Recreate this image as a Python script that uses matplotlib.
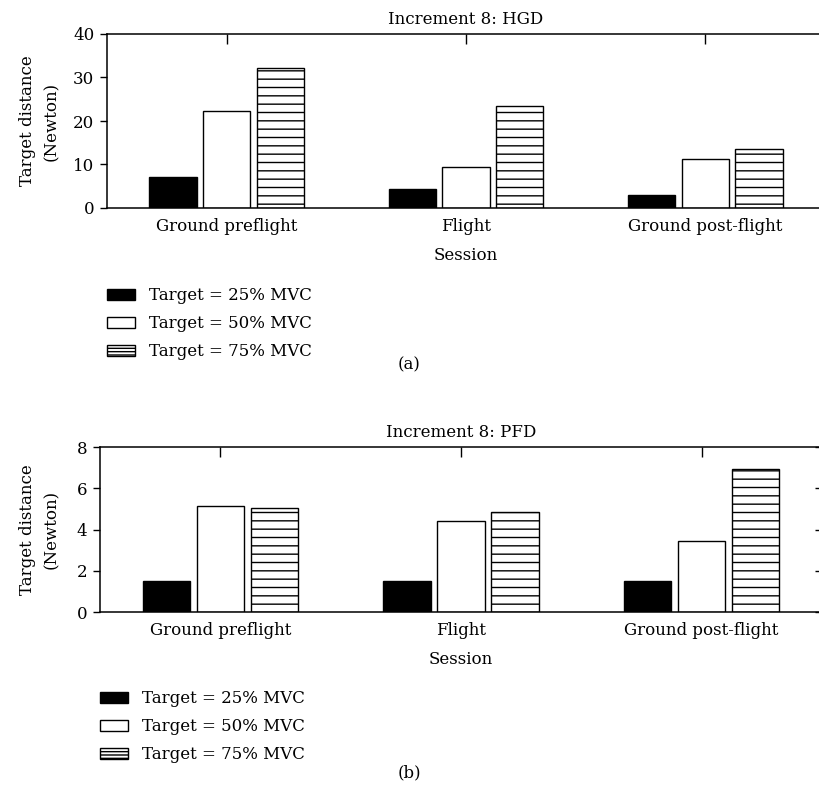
import numpy as np
import matplotlib
matplotlib.use("Agg")
from matplotlib import pyplot as plt
from matplotlib.patches import Patch

# data
sessions = ["Ground preflight", "Flight", "Ground post-flight"]
labels = ["Target = 25% MVC", "Target = 50% MVC", "Target = 75% MVC"]

hgd_25 = [7.1, 4.4, 3.0]
hgd_50 = [22.3, 9.4, 11.2]
hgd_75 = [32.1, 23.5, 13.5]

pfd_25 = [1.52, 1.52, 1.52]
pfd_50 = [5.15, 4.40, 3.43]
pfd_75 = [5.03, 4.87, 6.93]

plt.rcParams['font.family'] = ['DejaVu Serif']
plt.rcParams['font.size'] = 12
plt.rcParams['hatch.linewidth'] = 1.0

W, H = 819, 805
fig = plt.figure(figsize=(W / 100, H / 100), dpi=100)


def px_axes(left, right, top, bottom):
    return fig.add_axes([left / W, 1 - bottom / H, (right - left) / W, (bottom - top) / H])


styles = [dict(color='black', edgecolor='black'),
          dict(color='white', edgecolor='black'),
          dict(color='white', edgecolor='black', hatch='--')]


def draw_panel(ax, series, title, ymax, ystep, right_ticks):
    x = np.arange(len(sessions))
    offs = [-0.224, 0.0, 0.224]
    for vals, off, st in zip(series, offs, styles):
        ax.bar(x + off, vals, width=0.197, linewidth=1.0, **st)
    ax.set_xlim(-0.5, 2.5)
    ax.set_ylim(0, ymax)
    ax.set_yticks(np.arange(0, ymax + 0.1, ystep))
    ax.set_xticks(x)
    ax.set_xticklabels(sessions)
    ax.tick_params(axis='x', bottom=False, top=True, direction='in', length=7,
                   width=1, labelbottom=True, pad=7)
    ax.tick_params(axis='y', direction='out', length=5, width=1, pad=4)
    if right_ticks:
        sec = ax.secondary_yaxis('right')
        sec.set_yticks(np.arange(0, ymax + 0.1, ystep))
        sec.tick_params(direction='in', length=5, width=1, labelright=False)
    for sp in ax.spines.values():
        sp.set_linewidth(1.1)
    ax.set_title(title, fontsize=12, pad=7)
    ax.set_xlabel('Session', labelpad=9)
    ax.set_ylabel('Target distance\n(Newton)', linespacing=1.5, fontsize=12)


ax1 = px_axes(107, 825, 34, 208)
draw_panel(ax1, [hgd_25, hgd_50, hgd_75], 'Increment 8: HGD', 40, 10, False)
ax1.yaxis.set_label_coords(-0.066, 0.5)

ax2 = px_axes(100, 822, 447, 612)
draw_panel(ax2, [pfd_25, pfd_50, pfd_75], 'Increment 8: PFD', 8, 2, True)
ax2.yaxis.set_label_coords(-0.056, 0.5)

handles = [Patch(facecolor='black', edgecolor='black', linewidth=1.0),
           Patch(facecolor='white', edgecolor='black', linewidth=1.0),
           Patch(facecolor='white', edgecolor='black', linewidth=1.0, hatch='-----')]

for top, left in [(287, 107), (690, 100)]:
    fig.legend(handles, labels, loc='upper left', bbox_to_anchor=(left / W, 1 - top / H),
               frameon=False, borderpad=0, borderaxespad=0, handlelength=1.68,
               handleheight=0.65, handletextpad=0.84, labelspacing=0.66, fontsize=12)

fig.text(0.5, 1 - 365 / H, '(a)', ha='center', va='center', fontsize=12)
fig.text(0.5, 1 - 773 / H, '(b)', ha='center', va='center', fontsize=12)

fig.savefig('out.png', dpi=100)
